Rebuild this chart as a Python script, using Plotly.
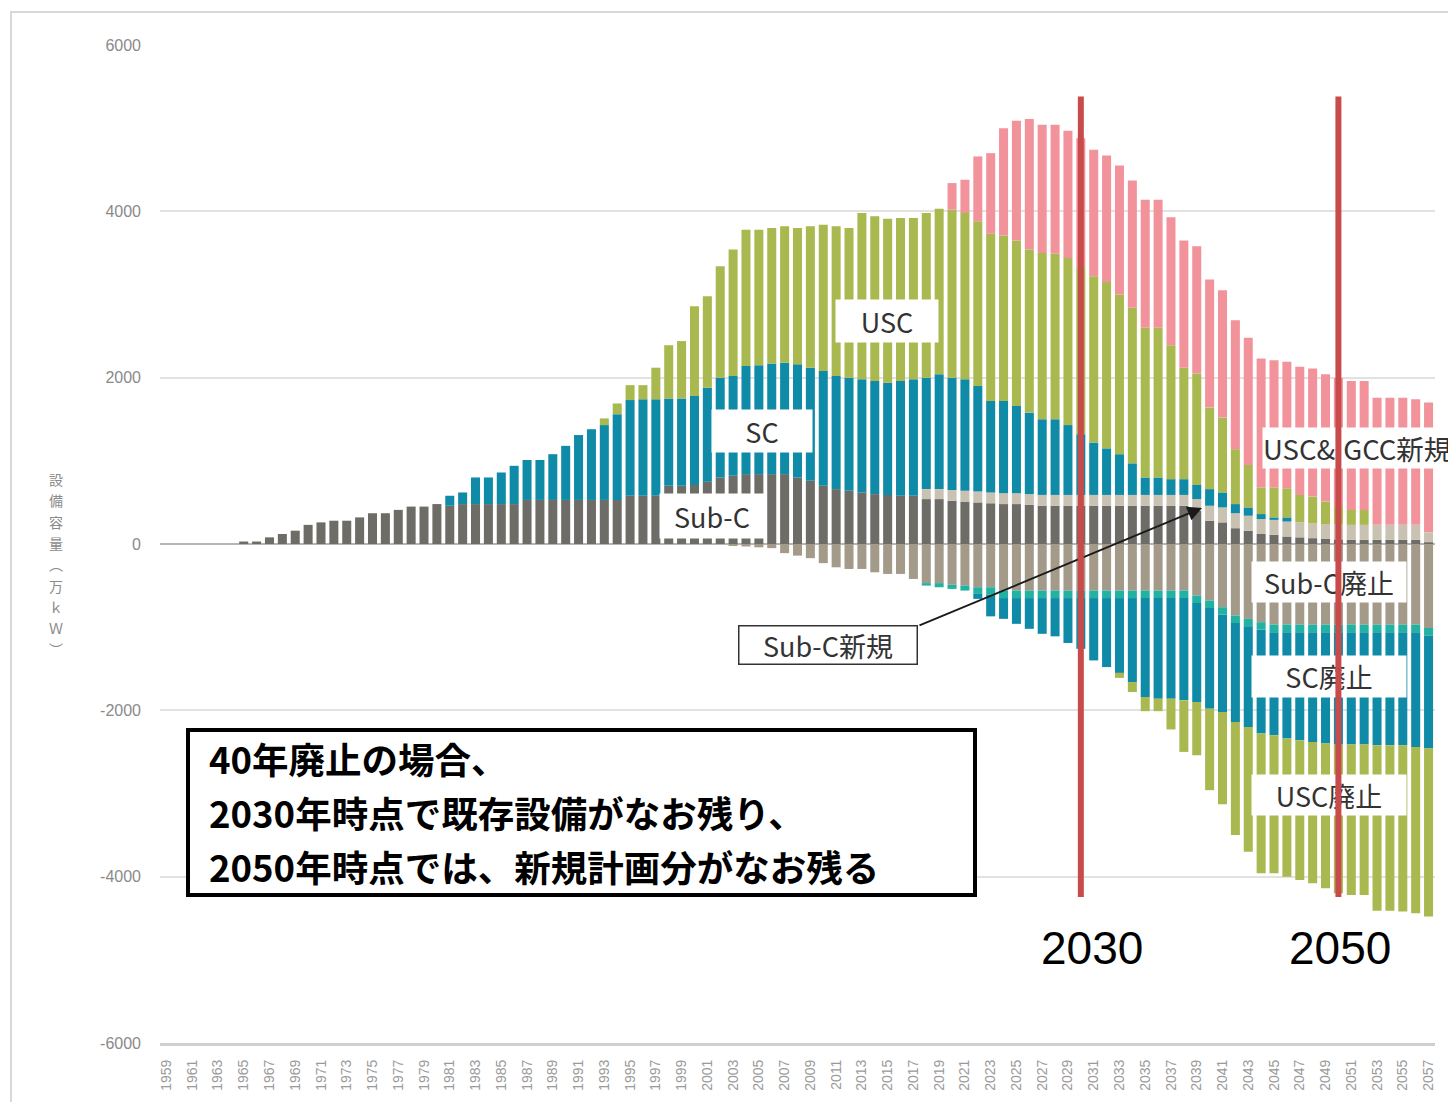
import plotly.graph_objects as go

# ---------------- data (万kW) ----------------
years = list(range(1959, 2058))

sub_c = [0, 0, 0, 0, 0, 0, 30, 30, 80, 120,
         160, 230, 260, 280, 280, 320, 370, 370, 410, 450,
         450, 480, 460, 480, 480, 480, 480, 480, 530, 530,
         530, 530, 530, 530, 530, 530, 580, 580, 580, 700,
         700, 710, 750, 800, 820, 840, 840, 840, 840, 800,
         760, 700, 660, 640, 620, 600, 590, 580, 580, 540,
         540, 520, 510, 500, 490, 480, 480, 470, 460, 460,
         460, 460, 460, 460, 460, 460, 460, 460, 460, 460,
         400, 280, 260, 190, 160, 120, 110, 90, 80, 70,
         60, 55, 50, 50, 50, 50, 50, 50, 20]

sub_c_new = [0] * 59 + [120,
             120, 130, 130, 130, 130, 130, 130, 130, 130, 130,
             130, 130, 130, 130, 130, 130, 130, 130, 130, 130,
             140, 180, 180, 180, 180, 180, 180, 180, 180, 180,
             180, 180, 180, 180, 180, 180, 180, 180, 120]

sc = [0] * 22 + [120, 140, 320, 320, 380, 460, 480, 480,
      550, 650, 780, 850, 900, 1030, 1150, 1160, 1160, 1050,
      1050, 1070, 1130, 1200, 1200, 1300, 1310, 1330, 1340, 1360,
      1360, 1380, 1360, 1360, 1360, 1360, 1350, 1380, 1400, 1340,
      1380, 1350, 1340, 1270, 1100, 1110, 1050, 980, 910, 910,
      840, 730, 630, 560, 490, 380, 210, 210, 190, 190,
      170, 200, 180, 110, 100, 60, 30, 50, 0, 0,
      0, 0, 0, 0, 0, 0, 0, 0, 0]

usc = [0] * 34 + [80, 130, 180, 170, 380, 640,
       690, 1080, 1100, 1340, 1520, 1640, 1630, 1630, 1640, 1640,
       1700, 1760, 1800, 1800, 2000, 1980, 1970, 1960, 1940, 1980,
       1990, 2020, 2000, 1980, 2010, 1990, 1990, 1960, 2000, 1990,
       2010, 2010, 2000, 2000, 1920, 1870, 1800, 1800, 1610, 1340,
       1340, 980, 900, 660, 510, 320, 360, 350, 330, 320,
       270, 210, 180, 180, 0, 0, 0, 0, 0]

usc_igcc_new = [0] * 61 + [320, 400, 780, 970, 1290, 1440, 1570, 1540, 1550,
                1530, 1550, 1520, 1520, 1550, 1530, 1540, 1540, 1540, 1530,
                1530, 1540, 1530, 1550, 1530, 1550, 1530, 1520, 1540, 1540,
                1530, 1550, 1550, 1550, 1530, 1530, 1530, 1510, 1560]

sub_c_ret = [0] * 44 + [-20, -30, -40, -50, -110, -140,
             -170, -230, -280, -300, -300, -340, -360, -360, -420, -470,
             -470, -490, -500, -520, -520, -560, -560, -560, -560, -560,
             -560, -560, -560, -560, -560, -560, -560, -560, -560, -560,
             -620, -680, -760, -860, -900, -940, -970, -970, -970, -970,
             -970, -970, -970, -970, -970, -970, -970, -970, -1010]

other_ret = [0] * 59 + [-30,
             -50, -50, -60, -80, -90, -90, -90, -90, -90, -90,
             -90, -90, -90, -90, -90, -90, -90, -90, -90, -90,
             -90, -90, -90, -90, -90, -90, -90, -90, -90, -90,
             -90, -90, -90, -90, -90, -90, -90, -90, -90]

sc_ret = [0] * 63 + [-60, -260, -250, -310, -370, -430, -460,
          -540, -610, -750, -830, -900, -1010, -1190, -1210, -1210, -1230,
          -1190, -1210, -1170, -1190, -1210, -1250, -1240, -1280, -1300, -1320,
          -1340, -1350, -1350, -1350, -1360, -1360, -1360, -1380, -1360]

usc_ret = [0] * 74 + [-60, -120, -170, -150, -370, -620,
           -640, -980, -1110, -1360, -1500, -1680, -1660, -1660, -1680, -1700,
           -1740, -1790, -1810, -1810, -1990, -1990, -2000, -2000, -2020]

for arr in (sub_c, sub_c_new, sc, usc, usc_igcc_new, sub_c_ret, other_ret, sc_ret, usc_ret):
    assert len(arr) == len(years), len(arr)

marker_years = [2030, 2050]
marker_labels = ["2030", "2050"]
y_ticks = [6000, 4000, 2000, 0, -2000, -4000, -6000]
x_ticks = list(range(1959, 2058, 2))
y_title = list("設備容量︵万ｋＷ︶")
message_lines = ["40年廃止の場合、",
                 "2030年時点で既存設備がなお残り、",
                 "2050年時点では、新規計画分がなお残る"]

series = [
    ("Sub-C", sub_c, "#6d6c66"),
    ("Sub-C新規", sub_c_new, "#c9c1b1"),
    ("SC", sc, "#0f8aa7"),
    ("USC", usc, "#a9b94f"),
    ("USC&IGCC新規", usc_igcc_new, "#f2939c"),
    ("Sub-C廃止", sub_c_ret, "#a39a89"),
    ("その他廃止", other_ret, "#22b2a2"),
    ("SC廃止", sc_ret, "#0f8aa7"),
    ("USC廃止", usc_ret, "#a9b94f"),
]

# ---------------- layout geometry (screen pixels; page has 8px body margin) ----------------
OFF = 8
SW, SH = 1456, 1102
W, H = SW - OFF, SH - OFF
L, R, T, B = 160, 1435, 45, 1043
X0, X1 = 1958.5, 2057.5
Y0, Y1 = -6000, 6000


def px(xp):
    return (xp - L) / (R - L)


def py(yp):
    return (B - yp) / (B - T)


def dx(xp):
    return X0 + (xp - L) * (X1 - X0) / (R - L)


def dy(yp):
    return Y1 - (yp - T) * (Y1 - Y0) / (B - T)


fig = go.Figure()
for name, vals, col in series:
    fig.add_trace(go.Bar(x=years, y=vals, name=name, marker=dict(color=col, line=dict(width=0)),
                         showlegend=False))

fig.update_layout(
    width=W, height=H, autosize=False,
    margin=dict(l=L - OFF, r=SW - R, t=T - OFF, b=SH - B),
    barmode="relative", bargap=0.3,
    plot_bgcolor="white", paper_bgcolor="white",
    font=dict(family="Noto Sans CJK JP", color="#333333"),
    xaxis=dict(range=[X0, X1], tickmode="array", tickvals=x_ticks,
               ticktext=[str(v) for v in x_ticks], tickangle=-90,
               tickfont=dict(family="Liberation Sans", size=14, color="#9a9a9a"),
               showgrid=False, zeroline=False, showline=True,
               linecolor="#cfcfcf", linewidth=3, ticks="", ticklabelstandoff=8),
    yaxis=dict(range=[Y0, Y1], tickmode="array", tickvals=y_ticks,
               ticktext=[str(v) for v in y_ticks],
               tickfont=dict(family="Liberation Sans", size=16, color="#8a8a8a"),
               showgrid=True, gridcolor="#e2e2e2", gridwidth=1.5,
               zeroline=True, zerolinecolor="#b5b5b5", zerolinewidth=2,
               showline=False, ticks="", ticklabelstandoff=18),
)

shapes = []
# outer frame
shapes.append(dict(type="rect", xref="paper", yref="paper",
                   x0=px(11), x1=px(1470), y0=py(12), y1=py(1120),
                   line=dict(color="#d8d8d8", width=2), fillcolor="rgba(0,0,0,0)", layer="below"))
# message box
shapes.append(dict(type="rect", xref="paper", yref="paper",
                   x0=px(188), x1=px(975), y0=py(730), y1=py(895),
                   line=dict(color="#000000", width=4), fillcolor="white", layer="above"))
fig.update_layout(shapes=shapes)

ann = []
# y-axis title (vertical writing, one glyph per row)
for i, ch in enumerate(y_title):
    ann.append(dict(xref="paper", yref="paper", x=px(56), y=py(479 + i * 21.3),
                    xanchor="center", yanchor="middle", text=ch, showarrow=False,
                    font=dict(size=14, color="#8a8a8a", family="Noto Sans CJK JP")))

# message text
for i, line in enumerate(message_lines):
    ann.append(dict(xref="paper", yref="paper", x=px(207), y=py(758.5 + i * 54),
                    xanchor="left", yanchor="middle", align="left", showarrow=False,
                    text="<b>" + line + "</b>",
                    font=dict(size=36.5, color="#000000", family="Noto Sans CJK JP")))

# in-chart labels (white boxes)
labels = [
    ("USC", 887, 321, 102, 42),
    ("SC", 762, 431, 100, 42),
    ("Sub-C", 712, 516, 104, 44),
    ("Sub-C廃止", 1329, 582, 154, 40),
    ("SC廃止", 1329, 676, 154, 41),
    ("USC廃止", 1329, 795, 154, 40),
]
for t, cx, cy, w, h in labels:
    ann.append(dict(xref="paper", yref="paper", x=px(cx), y=py(cy), xanchor="center", yanchor="middle",
                    text=t, showarrow=False, bgcolor="white", width=w, height=h, borderpad=0,
                    font=dict(size=27, color="#333333", family="Noto Sans CJK JP")))

ann.append(dict(xref="paper", yref="paper", x=px(1262), y=py(448), xanchor="left", yanchor="middle",
                text="USC&amp;IGCC新規", showarrow=False, bgcolor="white", width=205, height=40,
                borderpad=0, align="left",
                font=dict(size=27.5, color="#333333", family="Noto Sans CJK JP")))

ann.append(dict(xref="paper", yref="paper", x=px(828), y=py(645), xanchor="center", yanchor="middle",
                text="Sub-C新規", showarrow=False, bgcolor="white", width=177, height=37,
                borderpad=0, bordercolor="#333333", borderwidth=1.5,
                font=dict(size=27, color="#333333", family="Noto Sans CJK JP")))

# arrow from Sub-C新規 box to the band
ann.append(dict(xref="x", yref="y", axref="x", ayref="y",
                x=dx(1202), y=dy(508), ax=dx(918), ay=dy(626),
                text="", showarrow=True, arrowhead=2, arrowsize=1.6, arrowwidth=1.8,
                arrowcolor="#1a1a1a", standoff=0, startstandoff=0))

# red marker lines (drawn last, on top)
for yr in marker_years:
    ann.append(dict(xref="x", yref="y", axref="x", ayref="y",
                    x=yr, y=dy(897), ax=yr, ay=dy(95),
                    text="", showarrow=True, arrowhead=0, arrowwidth=6,
                    arrowcolor="#c94a4a", standoff=0, startstandoff=0))
for yr, lab, sh in zip(marker_years, marker_labels, [11, 2]):
    ann.append(dict(xref="x", yref="paper", x=yr, xshift=sh, y=py(948), text=lab,
                    showarrow=False, xanchor="center", yanchor="middle",
                    font=dict(size=46, color="#000000", family="Liberation Sans")))

fig.update_layout(annotations=ann)
fig.write_html("out.html")
